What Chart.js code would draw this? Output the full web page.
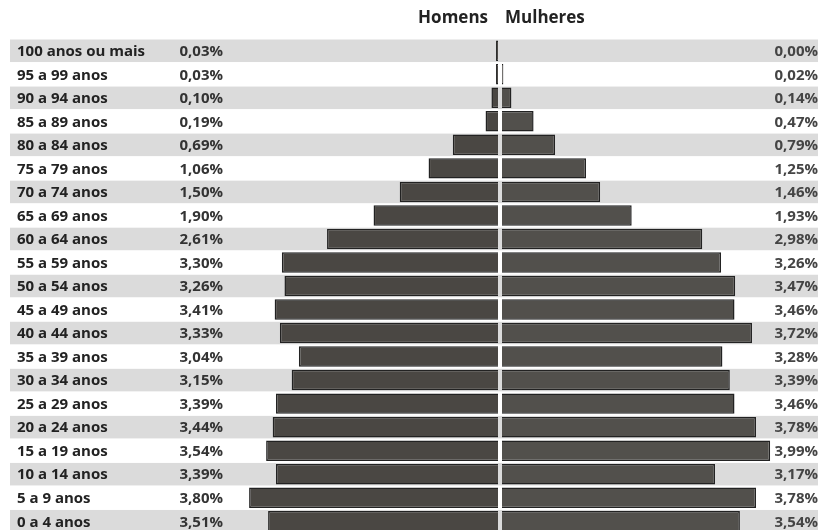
<!DOCTYPE html>
<html>
<head>
<meta charset="utf-8">
<script src="https://cdn.jsdelivr.net/npm/chart.js@4.4.1/dist/chart.umd.min.js"></script>
<style>
html,body{margin:0;padding:0;background:#fff;overflow:hidden;width:825px;height:530px}
#wrap{position:relative;width:825px;height:534px}
</style>
</head>
<body>
<div id="wrap"><canvas id="c"></canvas></div>
<script>
const categories = ['100 anos ou mais','95 a 99 anos','90 a 94 anos','85 a 89 anos','80 a 84 anos','75 a 79 anos','70 a 74 anos','65 a 69 anos','60 a 64 anos','55 a 59 anos','50 a 54 anos','45 a 49 anos','40 a 44 anos','35 a 39 anos','30 a 34 anos','25 a 29 anos','20 a 24 anos','15 a 19 anos','10 a 14 anos','5 a 9 anos','0 a 4 anos'];
const menValues = [0.03,0.03,0.10,0.19,0.69,1.06,1.50,1.90,2.61,3.30,3.26,3.41,3.33,3.04,3.15,3.39,3.44,3.54,3.39,3.80,3.51];
const womenValues = [0.00,0.02,0.14,0.47,0.79,1.25,1.46,1.93,2.98,3.26,3.47,3.46,3.72,3.28,3.39,3.46,3.78,3.99,3.17,3.78,3.54];
const seriesNames = ['Homens','Mulheres'];

const fmt = v => v.toFixed(2).replace('.', ',') + '%';

const pyramidText = {
  id: 'pyramidText',
  beforeDatasetsDraw(chart) {
    const {ctx, chartArea, scales: {y}} = chart;
    const rowH = y.getPixelForValue(1) - y.getPixelForValue(0);
    ctx.save();
    categories.forEach((c, i) => {
      if (i % 2 === 0) {
        const yc = y.getPixelForValue(i);
        ctx.fillStyle = '#dbdbdb';
        ctx.fillRect(chartArea.left, yc - rowH / 2 + 0.5, chartArea.right - chartArea.left, rowH - 1);
      }
    });
    ctx.restore();
  },
  afterDatasetsDraw(chart) {
    const {ctx, chartArea, scales: {y, xm, xw}} = chart;
    ctx.save();
    ctx.textBaseline = 'middle';
    categories.forEach((c, i) => {
      const yc = y.getPixelForValue(i) + 1;
      ctx.fillStyle = '#222222';
      ctx.font = '700 15px "Open Sans"';
      ctx.textAlign = 'left';
      ctx.fillText(c, 17, yc);
      ctx.fillStyle = '#333333';
      ctx.font = '700 15px "Open Sans"';
      ctx.textAlign = 'right';
      ctx.fillText(fmt(menValues[i]), 223, yc);
      ctx.fillStyle = '#444444';
      ctx.fillText(fmt(womenValues[i]), chartArea.right, yc);
    });
    ctx.fillStyle = '#222222';
    ctx.font = '700 17px "Open Sans"';
    ctx.textAlign = 'right';
    ctx.fillText(seriesNames[0], xm.getPixelForValue(0) - 10, 18);
    ctx.textAlign = 'left';
    ctx.fillText(seriesNames[1], xw.getPixelForValue(0) + 3, 18);
    ctx.restore();
  }
};

new Chart(document.getElementById('c'), {
  type: 'bar',
  data: {
    labels: categories,
    datasets: [
      {
        label: seriesNames[0],
        data: menValues,
        xAxisID: 'xm',
        backgroundColor: '#4a4743',
        borderColor: '#222222',
        borderWidth: 1.5,
        grouped: false,
        barPercentage: 0.87,
        categoryPercentage: 1
      },
      {
        label: seriesNames[1],
        data: womenValues,
        xAxisID: 'xw',
        backgroundColor: '#52504c',
        borderColor: '#222222',
        borderWidth: 1.5,
        grouped: false,
        barPercentage: 0.87,
        categoryPercentage: 1
      }
    ]
  },
  options: {
    indexAxis: 'y',
    responsive: true,
    maintainAspectRatio: false,
    animation: false,
    layout: { padding: { left: 10, right: 7, top: 39, bottom: 1 } },
    plugins: { legend: { display: false }, tooltip: { enabled: false }, title: { display: false } },
    scales: {
      y: { type: 'category', display: false, offset: true },
      xm: { type: 'linear', display: false, reverse: true, min: -(818 - 498) / 65.5, max: (498 - 10) / 65.5 },
      xw: { type: 'linear', display: false, min: -(502 - 10) / 67.2, max: (818 - 502) / 67.2 }
    }
  },
  plugins: [pyramidText]
});
</script>
</body>
</html>
